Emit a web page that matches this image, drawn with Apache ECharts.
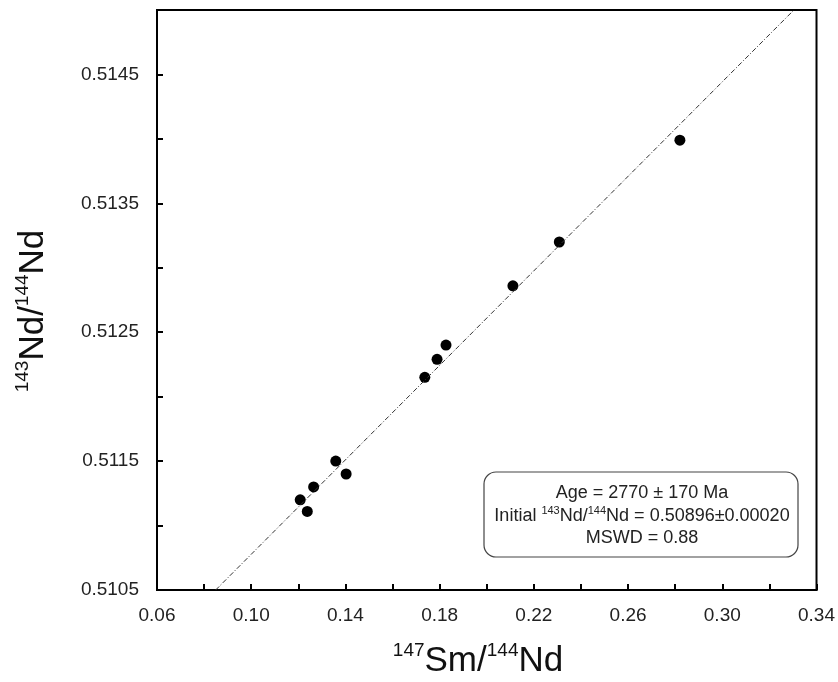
<!DOCTYPE html>
<html><head><meta charset="utf-8">
<script src="https://cdn.jsdelivr.net/npm/echarts@6/dist/echarts.min.js"></script>
<style>html,body{margin:0;padding:0;background:#fff}#c{width:838px;height:682px}</style>
</head><body><div id="c"></div>
<script>
// Sample data: 147Sm/144Nd vs 143Nd/144Nd
const smNd = [0.1208, 0.1238, 0.1265, 0.1359, 0.1403, 0.1737, 0.1789, 0.1827, 0.2111, 0.2308, 0.2820];
const ndNd = [0.51120, 0.51111, 0.51130, 0.51150, 0.51140, 0.51215, 0.51229, 0.51240, 0.51286, 0.51320, 0.51399];
// Isochron endpoints
const isoX = [0.0849, 0.3304];
const isoY = [0.5105, 0.5150];
const xTicks = [0.06, 0.10, 0.14, 0.18, 0.22, 0.26, 0.30, 0.34];
const yTicks = [0.5105, 0.5115, 0.5125, 0.5135, 0.5145];
const boxLines = ['Age = 2770 ± 170 Ma', 'Initial ', '143', 'Nd/', '144', 'Nd = 0.50896±0.00020', 'MSWD = 0.88'];

const font = 'Liberation Sans, Arial, sans-serif';
const chart = echarts.init(document.getElementById('c'));
const pts = smNd.map((x, i) => [x, ndNd[i]]);
const line = isoX.map((x, i) => [x, isoY[i]]);

chart.setOption({
  animation: false,
  grid: {left: 157, right: 20, top: 10, bottom: 92, show: true, borderColor: '#000', borderWidth: 2},
  xAxis: {
    type: 'value', min: 0.06, max: 0.34, interval: 0.02,
    axisLine: {lineStyle: {color: '#000', width: 2}},
    axisTick: {inside: true, length: 6, lineStyle: {color: '#000', width: 2}},
    axisLabel: {margin: 16, color: '#222', fontSize: 19, fontFamily: font,
      formatter: v => { const s = (+v).toFixed(2); return xTicks.some(t => Math.abs(t - v) < 1e-6) ? s : ''; }},
    splitLine: {show: false}
  },
  yAxis: {
    type: 'value', min: 0.5105, max: 0.5150, interval: 0.0005,
    axisLine: {lineStyle: {color: '#000', width: 2}},
    axisTick: {inside: true, length: 6, lineStyle: {color: '#000', width: 2}},
    axisLabel: {margin: 18, color: '#222', fontSize: 19, fontFamily: font,
      formatter: v => { const s = (+v).toFixed(4); return yTicks.some(t => Math.abs(t - v) < 1e-7) ? s : ''; }},
    splitLine: {show: false}
  },
  series: [
    {type: 'line', data: line, symbol: 'none', silent: true,
      lineStyle: {color: '#333', width: 1, type: [5, 2, 1, 2]}},
    {type: 'scatter', data: pts, symbol: 'circle', symbolSize: 11, itemStyle: {color: '#000', opacity: 1}}
  ],
  graphic: [
    {type: 'text', x: 478, y: 660, silent: true,
      style: {text: '{sup|147}{main|Sm/}{sup|144}{main|Nd}', align: 'center', verticalAlign: 'middle',
        rich: {main: {fontSize: 35, fontFamily: font, fill: '#111', verticalAlign: 'bottom', lineHeight: 38},
               sup: {fontSize: 19, fontFamily: font, fill: '#111', verticalAlign: 'top', lineHeight: 38}}}},
    {type: 'text', x: 32, y: 311, rotation: Math.PI / 2, silent: true,
      style: {text: '{sup|143}{main|Nd/}{sup|144}{main|Nd}', align: 'center', verticalAlign: 'middle',
        rich: {main: {fontSize: 35, fontFamily: font, fill: '#111', verticalAlign: 'bottom', lineHeight: 38},
               sup: {fontSize: 19, fontFamily: font, fill: '#111', verticalAlign: 'top', lineHeight: 38}}}},
    {type: 'rect', shape: {x: 484, y: 472, width: 314, height: 85, r: 12}, silent: true,
      style: {fill: '#fff', stroke: '#444', lineWidth: 1.2}},
    {type: 'text', x: 642, y: 493, silent: true,
      style: {text: boxLines[0], align: 'center', verticalAlign: 'middle', fontSize: 18, fontFamily: font, fill: '#222'}},
    {type: 'text', x: 642, y: 515, silent: true,
      style: {text: '{m|' + boxLines[1] + '}{s|' + boxLines[2] + '}{m|' + boxLines[3] + '}{s|' + boxLines[4] + '}{m|' + boxLines[5] + '}',
        align: 'center', verticalAlign: 'middle',
        rich: {m: {fontSize: 18, fontFamily: font, fill: '#222', verticalAlign: 'bottom', lineHeight: 20},
               s: {fontSize: 11, fontFamily: font, fill: '#222', verticalAlign: 'top', lineHeight: 20}}}},
    {type: 'text', x: 642, y: 538, silent: true,
      style: {text: boxLines[6], align: 'center', verticalAlign: 'middle', fontSize: 18, fontFamily: font, fill: '#222'}}
  ]
});
</script></body></html>
